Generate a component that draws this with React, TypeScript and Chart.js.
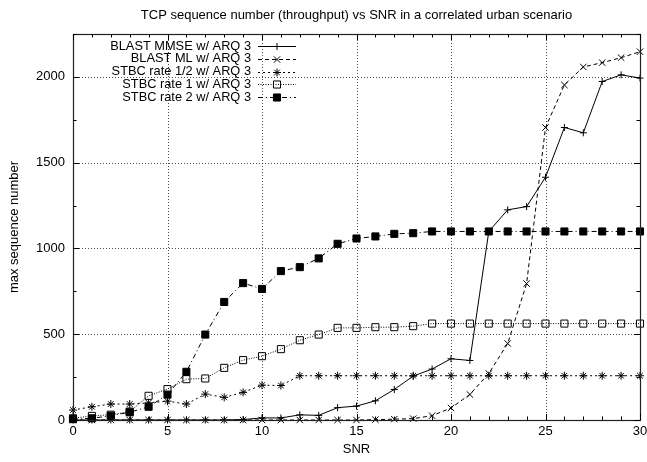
import React, { useEffect, useRef } from 'react';
import { Chart, registerables } from 'chart.js';

Chart.register(...registerables);

const snr = [0, 1, 2, 3, 4, 5, 6, 7, 8, 9, 10, 11, 12, 13, 14, 15, 16, 17, 18, 19, 20, 21, 22, 23, 24, 25, 26, 27, 28, 29, 30];

const blastMmse = [0, 0, 0, 0, 0, 0, 0, 0, 0, 3, 12, 12, 30, 27, 72, 81, 112, 178, 256, 297, 357, 347, 1099, 1225, 1244, 1415, 1705, 1674, 1973, 2012, 1993];
const blastMl = [0, 0, 0, 0, 0, 0, 0, 0, 0, 0, 0, 0, 0, 0, 0, 0, 2, 5, 8, 25, 70, 149, 271, 446, 795, 1705, 1953, 2058, 2083, 2112, 2147];
const stbcHalf = [58, 77, 93, 93, 100, 110, 93, 151, 132, 161, 203, 201, 258, 258, 258, 258, 258, 258, 258, 258, 258, 258, 258, 258, 258, 258, 258, 258, 258, 258, 258];
const stbcOne = [10, 24, 31, 49, 141, 180, 238, 242, 304, 349, 372, 413, 465, 498, 537, 537, 541, 541, 547, 562, 562, 562, 562, 562, 562, 562, 562, 562, 562, 562, 562];
const stbcTwo = [5, 10, 25, 45, 77, 148, 281, 498, 688, 798, 764, 868, 891, 942, 1027, 1058, 1070, 1085, 1089, 1099, 1099, 1099, 1099, 1099, 1099, 1099, 1099, 1099, 1099, 1099, 1099];

const seriesNames = [
  'BLAST MMSE w/ ARQ 3',
  'BLAST ML w/ ARQ 3',
  'STBC rate 1/2 w/ ARQ 3',
  'STBC rate 1 w/ ARQ 3',
  'STBC rate 2 w/ ARQ 3',
];
const seriesValues = [blastMmse, blastMl, stbcHalf, stbcOne, stbcTwo];

const xTicks = [0, 5, 10, 15, 20, 25, 30];
const yTicks = [0, 500, 1000, 1500, 2000];

const chartTitle = 'TCP sequence number (throughput) vs SNR in a correlated urban scenario';
const xTitle = 'SNR';
const yTitle = 'max sequence number';

const FONT = '"Liberation Sans", Arial, Helvetica, sans-serif';

type Style = { dash: number[]; point: string; radius: number; fill: string };
const styles: Style[] = [
  { dash: [], point: 'cross', radius: 3.5, fill: '#000' },
  { dash: [4, 3], point: 'crossRot', radius: 4.5, fill: '#000' },
  { dash: [2, 3], point: 'star', radius: 4, fill: '#000' },
  { dash: [1, 1.5], point: 'rect', radius: 5, fill: 'rgba(0,0,0,0)' },
  { dash: [5, 3, 1, 3], point: 'rect', radius: 5, fill: '#000' },
];

function drawMarker(ctx: CanvasRenderingContext2D, s: Style, x: number, y: number) {
  const r = s.radius;
  ctx.save();
  ctx.setLineDash([]);
  ctx.lineWidth = 1;
  ctx.strokeStyle = '#000';
  ctx.fillStyle = s.fill;
  ctx.beginPath();
  if (s.point === 'cross' || s.point === 'star') {
    ctx.moveTo(x - r, y);
    ctx.lineTo(x + r, y);
    ctx.moveTo(x, y - r);
    ctx.lineTo(x, y + r);
  }
  if (s.point === 'crossRot' || s.point === 'star') {
    const d = r * Math.SQRT1_2;
    ctx.moveTo(x - d, y - d);
    ctx.lineTo(x + d, y + d);
    ctx.moveTo(x - d, y + d);
    ctx.lineTo(x + d, y - d);
  }
  if (s.point === 'rect') {
    const h = r * Math.SQRT1_2;
    ctx.rect(x - h, y - h, 2 * h, 2 * h);
    ctx.fill();
  }
  ctx.stroke();
  ctx.restore();
}

const gnuplotPlugin = {
  id: 'gnuplotFrame',
  beforeDatasetsDraw(chart: any) {
    const { ctx, chartArea: a, scales } = chart;
    const xs = scales.x;
    const ys = scales.y;
    ctx.save();
    ctx.strokeStyle = 'rgba(0,0,0,0.7)';
    ctx.lineWidth = 1;
    ctx.setLineDash([1, 2]);
    ctx.beginPath();
    xTicks.forEach((v) => {
      if (v === 0 || v === 30) return;
      const px = Math.round(xs.getPixelForValue(v)) + 0.5;
      ctx.moveTo(px, a.top);
      ctx.lineTo(px, a.bottom);
    });
    yTicks.forEach((v) => {
      if (v === 0) return;
      const py = Math.round(ys.getPixelForValue(v)) + 0.5;
      ctx.moveTo(a.left, py);
      ctx.lineTo(a.right, py);
    });
    ctx.stroke();
    ctx.restore();
  },
  afterDatasetsDraw(chart: any) {
    const { ctx, chartArea: a, scales } = chart;
    const xs = scales.x;
    const ys = scales.y;
    ctx.save();
    ctx.setLineDash([]);
    ctx.strokeStyle = '#222';
    ctx.lineWidth = 1.2;
    ctx.strokeRect(Math.round(a.left) + 0.5, Math.round(a.top) + 0.5, Math.round(a.right - a.left), Math.round(a.bottom - a.top));
    ctx.lineWidth = 1;
    ctx.strokeStyle = '#000';
    ctx.beginPath();
    for (let v = 0; v <= 30; v++) {
      const px = Math.round(xs.getPixelForValue(v)) + 0.5;
      const len = v % 5 === 0 ? 6 : 3.5;
      ctx.moveTo(px, a.bottom);
      ctx.lineTo(px, a.bottom - len);
      ctx.moveTo(px, a.top);
      ctx.lineTo(px, a.top + len);
    }
    for (let v = 0; v <= 2250; v += 250) {
      const py = Math.round(ys.getPixelForValue(v)) + 0.5;
      const len = v % 500 === 0 ? 6 : 3.5;
      ctx.moveTo(a.left, py);
      ctx.lineTo(a.left + len, py);
      ctx.moveTo(a.right, py);
      ctx.lineTo(a.right - len, py);
    }
    ctx.stroke();

    // title
    ctx.fillStyle = '#000';
    ctx.font = `13px ${FONT}`;
    ctx.textAlign = 'center';
    ctx.textBaseline = 'middle';
    ctx.fillText(chartTitle, (a.left + a.right) / 2, 15);

    // legend
    ctx.font = `12.8px ${FONT}`;
    ctx.textAlign = 'right';
    seriesNames.forEach((name, i) => {
      const y = 46 + i * 12.8;
      ctx.fillStyle = '#000';
      ctx.fillText(name, 251, y);
      const s = styles[i];
      ctx.save();
      ctx.strokeStyle = '#000';
      ctx.lineWidth = 1;
      ctx.setLineDash(s.dash);
      ctx.beginPath();
      ctx.moveTo(258, Math.round(y) + 0.5);
      ctx.lineTo(296, Math.round(y) + 0.5);
      ctx.stroke();
      ctx.restore();
      drawMarker(ctx, s, 277, Math.round(y) + 0.5);
    });
    ctx.restore();
  },
};

export default function App() {
  const ref = useRef<HTMLCanvasElement>(null);
  useEffect(() => {
    document.body.style.margin = '0';
    if (!ref.current) return;
    const datasets = seriesNames.map((name, i) => ({
      label: name,
      data: snr.map((x, j) => ({ x, y: seriesValues[i][j] })),
      borderColor: '#000',
      borderWidth: 1,
      borderDash: styles[i].dash,
      pointStyle: styles[i].point,
      pointRadius: styles[i].radius,
      pointHoverRadius: styles[i].radius,
      pointBorderColor: '#000',
      pointBackgroundColor: styles[i].fill,
      pointBorderWidth: 1,
      fill: false,
      tension: 0,
      order: i,
      clip: 8,
    }));
    const chart = new Chart(ref.current, {
      type: 'line',
      data: { datasets },
      plugins: [gnuplotPlugin],
      options: {
        animation: false,
        responsive: false,
        devicePixelRatio: 1,
        layout: { padding: { top: 34, right: 7, bottom: 0, left: 0 } },
        plugins: {
          legend: { display: false },
          title: { display: false },
          tooltip: { enabled: false },
        },
        scales: {
          x: {
            type: 'linear',
            min: 0,
            max: 30,
            grid: { display: false, drawTicks: false },
            border: { display: false },
            ticks: {
              color: '#000',
              font: { family: FONT, size: 13 },
              padding: 4,
              maxRotation: 0,
              callback: (v: any) => String(v),
            },
            title: {
              display: true,
              text: xTitle,
              color: '#000',
              font: { family: FONT, size: 13 },
              padding: { top: 0, bottom: 5 },
            },
            afterBuildTicks: (scale: any) => {
              scale.ticks = xTicks.map((v) => ({ value: v }));
            },
            afterFit: (scale: any) => {
              scale.height = 42;
              scale.paddingLeft = 0;
              scale.paddingRight = 0;
            },
          },
          y: {
            type: 'linear',
            min: 0,
            max: 2250,
            grid: { display: false, drawTicks: false },
            border: { display: false },
            ticks: {
              color: '#000',
              font: { family: FONT, size: 13 },
              padding: 8,
              callback: (v: any) => String(v),
            },
            title: {
              display: true,
              text: yTitle,
              color: '#000',
              font: { family: FONT, size: 13 },
              padding: { top: 7, bottom: 0 },
            },
            afterBuildTicks: (scale: any) => {
              scale.ticks = yTicks.map((v) => ({ value: v }));
            },
            afterFit: (scale: any) => {
              scale.width = 73;
              scale.paddingTop = 0;
              scale.paddingBottom = 0;
            },
          },
        },
      },
    });
    return () => chart.destroy();
  }, []);
  return (
    <div style={{ position: 'absolute', left: 0, top: 0, width: 647, height: 462 }}>
      <canvas ref={ref} width={647} height={462} style={{ display: 'block', width: 647, height: 462 }} />
    </div>
  );
}
